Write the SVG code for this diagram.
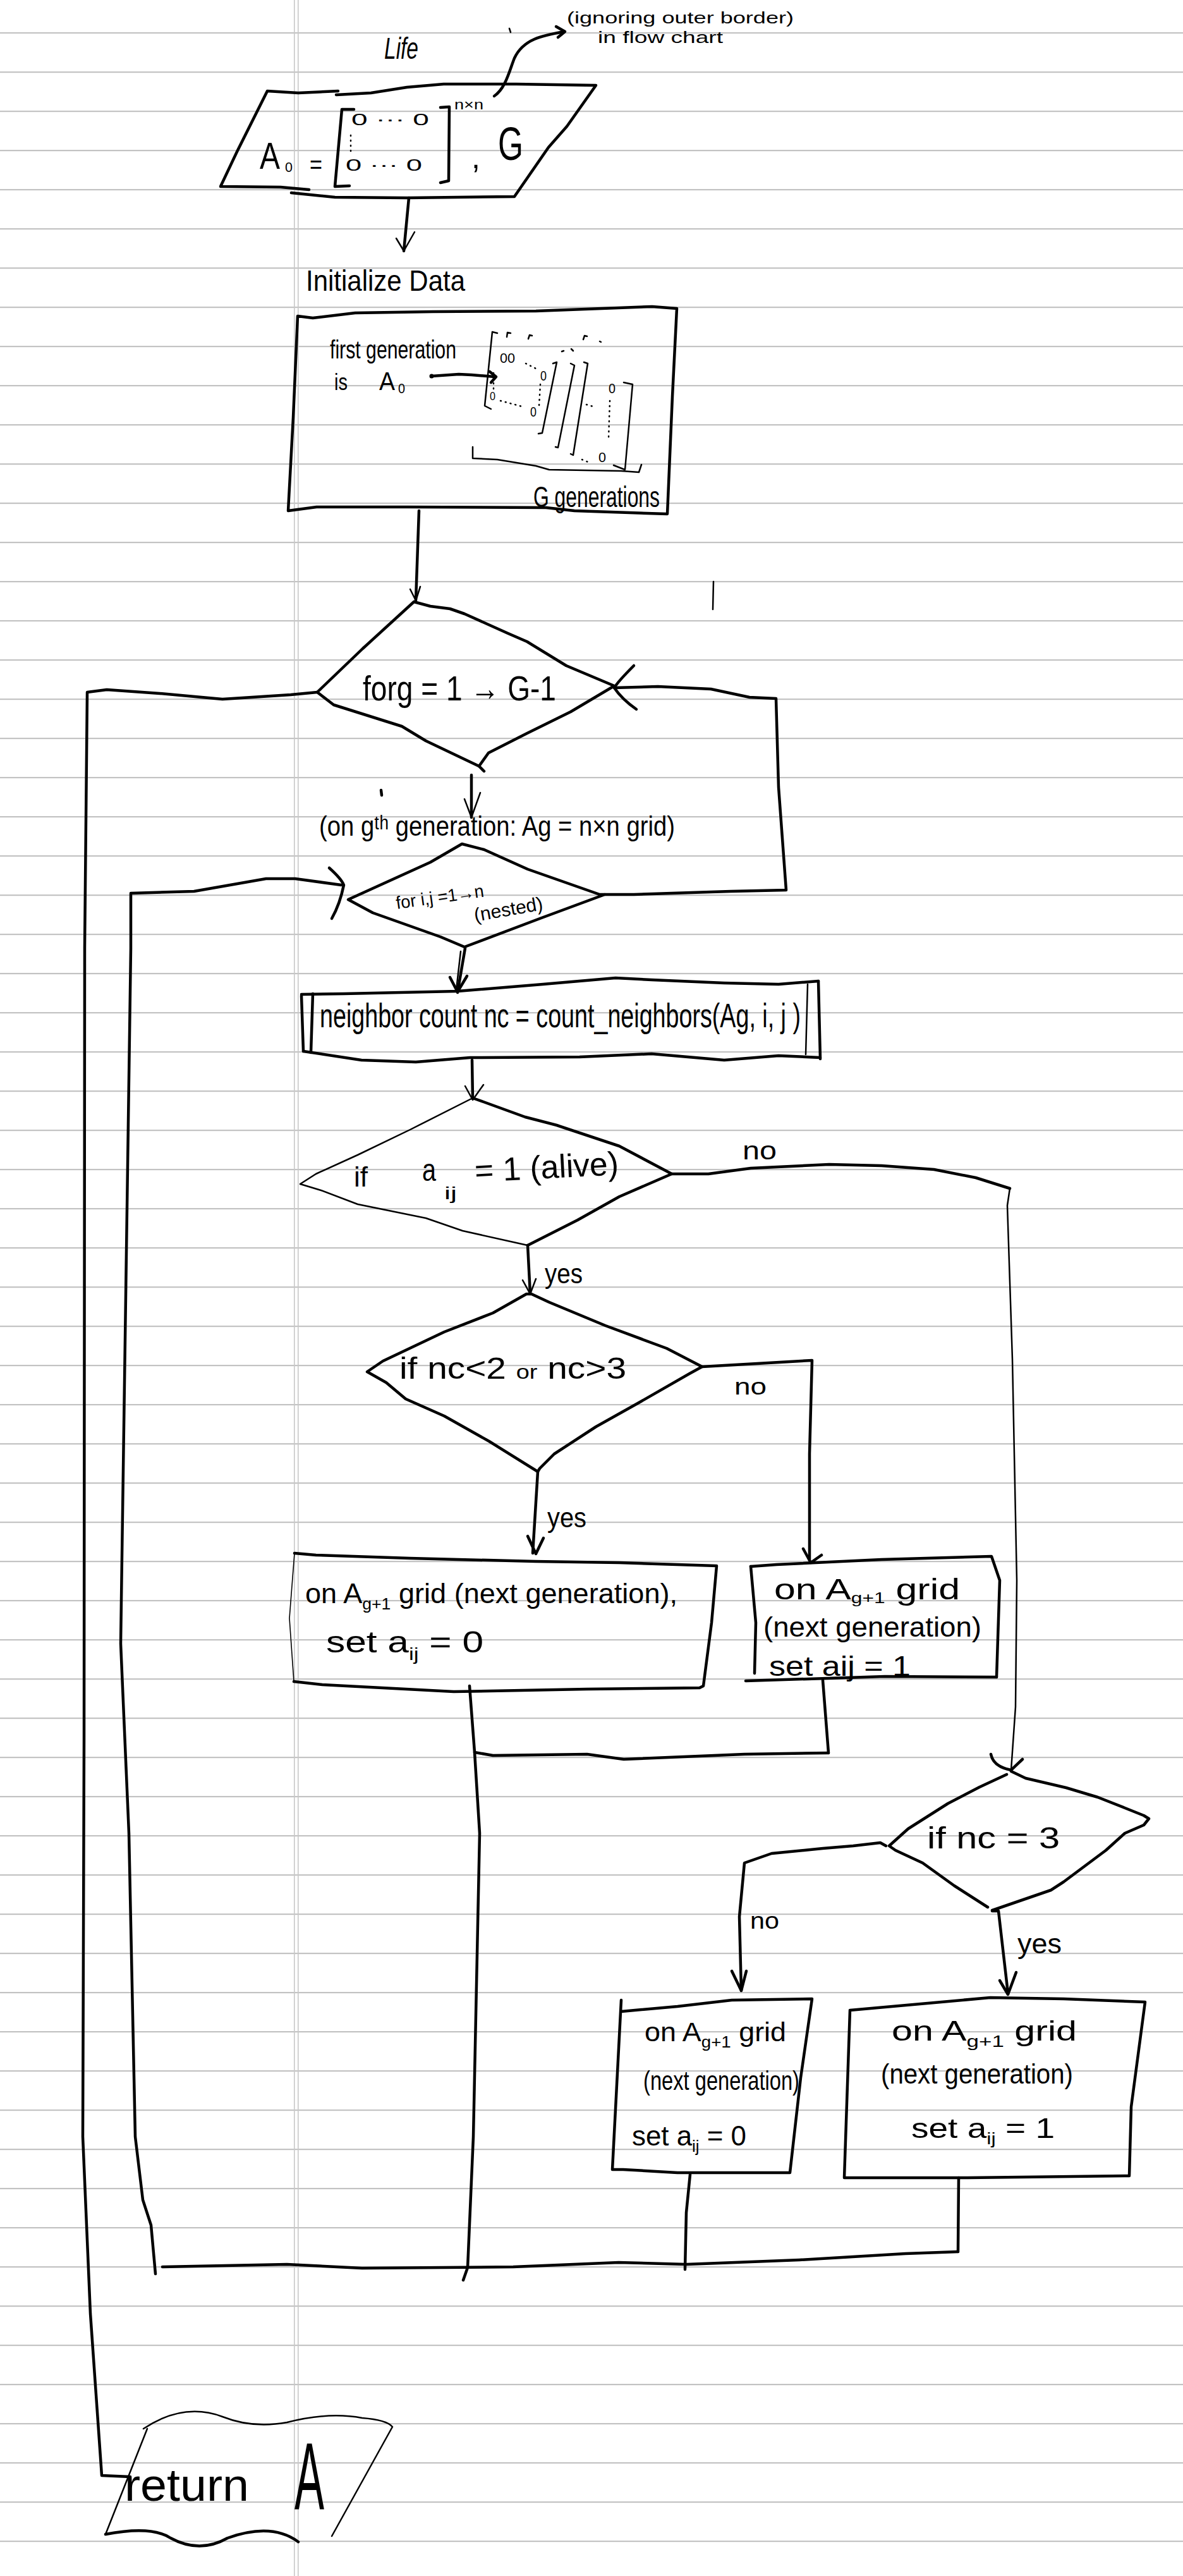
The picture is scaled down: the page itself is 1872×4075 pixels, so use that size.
<svg xmlns="http://www.w3.org/2000/svg" width="1872" height="4075" viewBox="0 0 1872 4075">
  <defs>
    <pattern id="ruled" x="0" y="51" width="1872" height="62" patternUnits="userSpaceOnUse">
      <rect x="0" y="0" width="1872" height="2.2" fill="#c3c3c3"/>
    </pattern>
    <style>
      .ink { fill: none; stroke: #000; stroke-width: 4.5; stroke-linecap: round; stroke-linejoin: round; }
      .thin { fill: none; stroke: #000; stroke-width: 2.5; stroke-linecap: round; stroke-linejoin: round; }
      .hair { fill: none; stroke: #000; stroke-width: 1.6; stroke-linecap: round; stroke-linejoin: round; }
      .dots { fill: none; stroke: #000; stroke-width: 2.5; stroke-linecap: round; stroke-dasharray: 1 7; }
      text { font-family: "Liberation Sans Narrow", "Liberation Sans", "DejaVu Sans Condensed", sans-serif; fill: #000; }
      .t40 { font-size: 40px; }
      .t26 { font-size: 26px; }
      .t22 { font-size: 22px; }
    </style>
  </defs>

  <!-- notebook paper -->
  <rect width="1872" height="4075" fill="#fff"/>
  <rect width="1872" height="4075" fill="url(#ruled)"/>
  <rect x="465" y="0" width="1.6" height="4075" fill="#c8c8c8"/>
  <rect x="471" y="0" width="1.6" height="4075" fill="#c8c8c8"/>

  <!-- title and side note -->
  <g id="title">
    <text x="608" y="93" font-size="48" font-style="italic" textLength="54" lengthAdjust="spacingAndGlyphs">Life</text>
    <text x="897" y="37" font-size="26" textLength="359" lengthAdjust="spacingAndGlyphs">(ignoring outer border)</text>
    <text x="946" y="68" font-size="26" textLength="198" lengthAdjust="spacingAndGlyphs">in flow chart</text>
    <path class="thin" d="M806,45 L808,51"/>
    <path class="ink" d="M782,152 C800,140 806,112 814,92 C828,62 858,56 893,50"/>
    <path class="ink" d="M880,42 L894,50 L883,59"/>
  </g>

  <!-- input: A0 and G -->
  <g id="input">
    <path class="ink" d="M489,300 L444,296 L349,295 L375,240 L423,144 L472,147 L535,144"/>
    <path class="ink" d="M532,150 L587,147 L644,138 L702,133 L817,133 L943,135 L897,200 L868,233 L814,311 L644,313 L530,312 L461,305"/>
    <text x="411" y="267" font-size="60" textLength="32" lengthAdjust="spacingAndGlyphs">A</text>
    <text x="451" y="272" class="t22" textLength="12" lengthAdjust="spacingAndGlyphs">0</text>
    <text x="490" y="274" class="t40" textLength="20" lengthAdjust="spacingAndGlyphs">=</text>
    <path class="ink" d="M560,173 L541,173 L530,295 L553,294"/>
    <path class="ink" d="M697,170 L711,169 L710,286 L697,289"/>
    <text x="556" y="198" class="t26" textLength="123" lengthAdjust="spacingAndGlyphs">0 ··· 0</text>
    <text x="547" y="270" class="t26" textLength="121" lengthAdjust="spacingAndGlyphs">0 ··· 0</text>
    <path class="dots" d="M555,214 L555,246"/>
    <text x="719" y="173" class="t22" textLength="46" lengthAdjust="spacingAndGlyphs">n×n</text>
    <text x="746" y="266" font-size="50">,</text>
    <text x="788" y="253" font-size="74" textLength="40" lengthAdjust="spacingAndGlyphs">G</text>
  </g>

  <!-- initialize data -->
  <g id="init">
    <text x="484" y="460" font-size="46" textLength="252" lengthAdjust="spacingAndGlyphs">Initialize Data</text>
    <path class="ink" d="M471,500 L495,503 L562,495 L685,493 L848,492 L1032,485 L1071,488 L1064,627 L1056,813 L909,808 L864,803 L644,802 L501,802 L456,808 L464,660 L471,500"/>
    <text x="522" y="567" font-size="40" textLength="200" lengthAdjust="spacingAndGlyphs">first generation</text>
    <text x="529" y="617" font-size="36" textLength="21" lengthAdjust="spacingAndGlyphs">is</text>
    <text x="600" y="617" font-size="40" textLength="25" lengthAdjust="spacingAndGlyphs">A</text>
    <text x="630" y="622" class="t22" textLength="11" lengthAdjust="spacingAndGlyphs">0</text>
    <circle cx="683" cy="595" r="3.5" fill="#000"/>
    <path class="ink" d="M683,595 L726,592 L746,593 L783,596"/>
    <path class="ink" d="M775,588 L785,596 L777,605"/>
    <!-- stack of generation matrices -->
    <path class="thin" d="M787,527 L779,525 L767,642 L777,647"/>
    <text x="791" y="574" class="t22" textLength="24" lengthAdjust="spacingAndGlyphs">00</text>
    <path class="dots" d="M832,575 L852,585"/>
    <text x="855" y="602" class="t22" textLength="10" lengthAdjust="spacingAndGlyphs">0</text>
    <path class="dots" d="M855,608 L853,642"/>
    <path class="dots" d="M781,590 L781,616"/>
    <text x="775" y="633" font-size="18" textLength="9" lengthAdjust="spacingAndGlyphs">0</text>
    <path class="dots" d="M792,634 L826,643"/>
    <text x="839" y="659" class="t22" textLength="10" lengthAdjust="spacingAndGlyphs">0</text>
    <path class="thin" d="M875,575 L881,573 L858,685 L852,686"/>
    <path class="thin" d="M903,575 L909,578 L883,708 L879,707"/>
    <path class="thin" d="M924,573 L930,575 L907,720 L903,718"/>
    <path class="thin" d="M987,605 L1001,608 L989,743 L971,736"/>
    <path class="dots" d="M928,640 L942,644"/>
    <text x="963" y="622" class="t22" textLength="11" lengthAdjust="spacingAndGlyphs">0</text>
    <path class="dots" d="M965,634 L963,694"/>
    <text x="947" y="731" class="t22" textLength="12" lengthAdjust="spacingAndGlyphs">0</text>
    <path class="dots" d="M921,727 L931,731"/>
    <path class="thin" d="M802,533 L803,526 L808,527 M836,536 L838,530 L842,531 M923,537 L925,531 L929,532 M949,540 L951,541 M889,556 L892,555 M904,552 L907,555"/>
    <path class="thin" d="M748,707 L748,725 L787,727 L848,737 L869,743 L983,745 L1011,747 L1015,735"/>
    <text x="844" y="802" font-size="46" textLength="200" lengthAdjust="spacingAndGlyphs">G generations</text>
  </g>

  <!-- outer loop over generations -->
  <g id="loop-g">
    <path class="ink" d="M655,952 L681,959 L712,963 L735,971 L804,1002 L834,1015 L896,1053 L972,1085 L903,1126 L834,1160 L773,1191 L758,1212 L674,1172 L636,1149 L528,1115 L502,1095 L574,1026 L655,952"/>
    <path class="ink" d="M758,1212 L766,1220"/>
    <text x="574" y="1108" font-size="56" textLength="306" lengthAdjust="spacingAndGlyphs">forg = 1 → G-1</text>
  </g>

  <!-- note on the current generation -->
  <g id="gen-note">
    <text x="505" y="1322" font-size="44" textLength="563" lengthAdjust="spacingAndGlyphs">(on gᵗʰ generation: Ag = n×n grid)</text>
  </g>

  <!-- inner loop over cells -->
  <g id="loop-ij">
    <path class="ink" d="M731,1335 L766,1344 L835,1375 L949,1415 L957,1415 L857,1452 L735,1498 L697,1482 L590,1444 L551,1423 L681,1364 L731,1335"/>
    <text x="628" y="1438" font-size="28" textLength="140" lengthAdjust="spacingAndGlyphs" transform="rotate(-8 628 1438)">for i,j =1→n</text>
    <text x="752" y="1458" font-size="30" textLength="110" lengthAdjust="spacingAndGlyphs" transform="rotate(-10 752 1458)">(nested)</text>
  </g>

  <!-- neighbour count subroutine -->
  <g id="count">
    <path class="ink" d="M477,1573 L544,1572 L724,1568 L859,1557 L974,1547 L1031,1550 L1146,1555 L1232,1557 L1295,1552"/>
    <path class="ink" d="M480,1663 L572,1677 L658,1680 L744,1673 L917,1672 L1031,1667 L1146,1677 L1232,1670 L1298,1673"/>
    <path class="ink" d="M477,1575 L480,1663"/>
    <path class="ink" d="M495,1572 L492,1665"/>
    <path class="thin" d="M1278,1557 L1275,1668"/>
    <path class="ink" d="M1295,1552 L1298,1675"/>
    <text x="506" y="1625" font-size="54" textLength="761" lengthAdjust="spacingAndGlyphs">neighbor count  nc = count_neighbors(Ag, i, j )</text>
  </g>

  <!-- is the cell alive -->
  <g id="alive">
    <path class="ink" d="M748,1737 L765,1743 L831,1767 L881,1780 L980,1813 L1063,1857 L980,1893 L914,1930 L835,1970"/>
    <path class="thin" d="M748,1737 L649,1787 L566,1827 L500,1857 L475,1873 L508,1883 L566,1905 L674,1927 L732,1947 L835,1970"/>
    <text x="560" y="1877" font-size="44" textLength="22" lengthAdjust="spacingAndGlyphs">if</text>
    <text x="668" y="1868" font-size="50" textLength="22" lengthAdjust="spacingAndGlyphs">a</text>
    <text x="703" y="1897" font-size="28" textLength="20" lengthAdjust="spacingAndGlyphs">ij</text>
    <text x="752" y="1870" font-size="52" textLength="228" lengthAdjust="spacingAndGlyphs" transform="rotate(-3 752 1870)">= 1 (alive)</text>
  </g>

  <!-- under- or over-population -->
  <g id="crowding">
    <path class="ink" d="M841,2047 L869,2060 L958,2097 L1055,2133 L1111,2162 L1091,2173 L1009,2220 L943,2257 L877,2300 L854,2323 L851,2328 L774,2280 L703,2240 L642,2213 L611,2187 L581,2170 L606,2153 L703,2107 L780,2077 L833,2047 L841,2047"/>
    <text x="632" y="2181" font-size="48" textLength="359" lengthAdjust="spacingAndGlyphs">if nc&lt;2 <tspan font-size="32">or</tspan> nc&gt;3</text>
  </g>

  <!-- cell dies -->
  <g id="dies">
    <path class="ink" d="M466,2457 L500,2460 L649,2465 L848,2470 L980,2472 L1134,2477 L1126,2567 L1113,2667 L1107,2670 L929,2672 L718,2676 L510,2665 L465,2660"/>
    <path class="hair" d="M465,2660 L458,2560 L466,2457"/>
    <text x="483" y="2536" font-size="44" textLength="589" lengthAdjust="spacingAndGlyphs">on  A<tspan font-size="26" dy="10">g+1</tspan><tspan dy="-10"> grid (next generation),</tspan></text>
    <text x="516" y="2614" font-size="48" textLength="249" lengthAdjust="spacingAndGlyphs">set a<tspan font-size="28" dy="12">ij</tspan><tspan dy="-12"> = 0</tspan></text>
  </g>

  <!-- cell survives -->
  <g id="survives">
    <path class="ink" d="M1188,2478 L1229,2475 L1395,2467 L1569,2462 L1582,2500 L1577,2653"/>
    <path class="ink" d="M1188,2478 L1196,2567 L1194,2647"/>
    <path class="ink" d="M1180,2659 L1400,2652 L1577,2653" stroke-width="6"/>
    <text x="1225" y="2530" font-size="46" textLength="294" lengthAdjust="spacingAndGlyphs">on A<tspan font-size="24" dy="6">g+1</tspan><tspan dy="-6"> grid</tspan></text>
    <text x="1208" y="2589" font-size="44" textLength="345" lengthAdjust="spacingAndGlyphs">(next generation)</text>
    <text x="1217" y="2651" font-size="44" textLength="224" lengthAdjust="spacingAndGlyphs">set aij = 1</text>
  </g>

  <!-- exactly three neighbours -->
  <g id="three">
    <path class="ink" d="M1600,2802 L1623,2813 L1687,2828 L1737,2843 L1780,2860 L1810,2872 L1818,2877 L1810,2887 L1780,2900 L1750,2927 L1683,2977 L1663,2990 L1570,3022"/>
    <path class="ink" d="M1593,2807 L1550,2827 L1500,2853 L1437,2893 L1407,2920 L1417,2927 L1460,2947 L1510,2983 L1563,3017"/>
    <text x="1467" y="2924" font-size="48" textLength="210" lengthAdjust="spacingAndGlyphs">if nc = 3</text>
  </g>

  <!-- stays dead -->
  <g id="stays-dead">
    <path class="ink" d="M983,3182 L1072,3174 L1158,3164 L1285,3162 L1267,3287 L1250,3437 L1072,3437 L986,3432 L969,3432 L983,3164"/>
    <text x="1020" y="3229" font-size="42" textLength="224" lengthAdjust="spacingAndGlyphs">on A<tspan font-size="26" dy="10">g+1</tspan><tspan dy="-10"> grid</tspan></text>
    <text x="1018" y="3306" font-size="42" textLength="247" lengthAdjust="spacingAndGlyphs">(next generation)</text>
    <text x="1000" y="3394" font-size="44" textLength="181" lengthAdjust="spacingAndGlyphs">set a<tspan font-size="26" dy="10">ij</tspan><tspan dy="-10"> = 0</tspan></text>
  </g>

  <!-- born -->
  <g id="born">
    <path class="ink" d="M1345,3180 L1567,3160 L1683,3162 L1812,3167 L1790,3333 L1787,3442 L1531,3445 L1336,3445 L1345,3180"/>
    <text x="1411" y="3228" font-size="44" textLength="293" lengthAdjust="spacingAndGlyphs">on  A<tspan font-size="26" dy="10">g+1</tspan><tspan dy="-10">  grid</tspan></text>
    <text x="1394" y="3296" font-size="44" textLength="304" lengthAdjust="spacingAndGlyphs">(next generation)</text>
    <text x="1442" y="3382" font-size="44" textLength="227" lengthAdjust="spacingAndGlyphs">set a<tspan font-size="26" dy="10">ij</tspan><tspan dy="-10"> = 1</tspan></text>
  </g>

  <!-- terminator -->
  <g id="return">
    <path class="thin" d="M227,3842 Q290,3800 352,3823 Q400,3842 454,3832 Q520,3815 573,3825 Q612,3828 621,3839 L525,4012"/>
    <path class="thin" d="M233,3842 L167,4009"/>
    <path class="ink" d="M167,4009 Q240,3995 270,4015 Q316,4040 360,4015 Q430,3990 472,4021"/>
    <text x="197" y="3956" font-size="72" textLength="197" lengthAdjust="spacingAndGlyphs">return</text>
    <text x="466" y="3969" font-size="150" textLength="47" lengthAdjust="spacingAndGlyphs">A</text>
  </g>

  <!-- connectors -->
  <g id="connectors">
    <!-- input to initialize -->
    <path class="ink" d="M647,313 L639,397"/>
    <path class="thin" d="M627,377 L639,397 L656,367"/>
    <!-- initialize to generation loop -->
    <path class="ink" d="M663,808 L658,950"/>
    <path class="thin" d="M649,932 L658,950 L665,928"/>
    <!-- exit of generation loop to return -->
    <path class="ink" d="M502,1095 L460,1099 L352,1106 L253,1097 L169,1091 L138,1095 L134,1500 L133,2750 L131,3380 L143,3660 L161,3916 L206,3918"/>
    <!-- back edge into the generation loop -->
    <path class="ink" d="M957,1415 L1003,1415 L1156,1410 L1244,1408 L1232,1245 L1228,1105 L1186,1103 L1125,1090 L1041,1086 L972,1088"/>
    <path class="ink" d="M1003,1053 Q978,1078 972,1088 Q984,1106 1007,1122"/>
    <path class="thin" d="M1129,920 L1128,964"/>
    <!-- generation loop body -->
    <path class="ink" d="M746,1226 L746,1293"/>
    <path class="thin" d="M735,1264 L746,1293 L760,1254"/>
    <path class="ink" d="M603,1250 L604,1258"/>
    <!-- back edge into the cell loop -->
    <path class="ink" d="M246,3597 L239,3520 L226,3480 L214,3380 L204,2900 L191,2600 L207,1500 L207,1413 L307,1410 L421,1390 L467,1390 L540,1400"/>
    <path class="ink" d="M521,1373 Q540,1390 544,1400 Q538,1430 525,1453"/>
    <!-- cell loop to neighbour count -->
    <path class="ink" d="M736,1500 L724,1570"/>
    <path class="thin" d="M729,1505 L722,1566"/>
    <path class="ink" d="M712,1546 L724,1569 L739,1544"/>
    <!-- count to alive test -->
    <path class="ink" d="M747,1677 L748,1738"/>
    <path class="thin" d="M736,1718 L748,1740 L765,1716"/>
    <!-- alive: no -->
    <path class="ink" d="M1063,1857 L1121,1857 L1188,1848 L1312,1842 L1395,1844 L1478,1850 L1544,1863 L1598,1880"/>
    <path class="thin" d="M1598,1880 L1594,1907 L1602,2150 L1609,2500 L1607,2700 L1600,2800"/>
    <path class="ink" d="M1568,2775 Q1572,2795 1600,2800 L1618,2783"/>
    <text x="1175" y="1834" font-size="40" textLength="54" lengthAdjust="spacingAndGlyphs">no</text>
    <!-- alive: yes -->
    <path class="ink" d="M835,1970 L839,2047"/>
    <path class="thin" d="M827,2025 L839,2047 L848,2023"/>
    <text x="862" y="2030" font-size="44" textLength="60" lengthAdjust="spacingAndGlyphs">yes</text>
    <!-- crowding: no -->
    <path class="ink" d="M1111,2162 L1285,2152 L1281,2300 L1281,2468"/>
    <path class="ink" d="M1271,2450 L1283,2472 L1300,2460"/>
    <text x="1162" y="2206" font-size="36" textLength="51" lengthAdjust="spacingAndGlyphs">no</text>
    <!-- crowding: yes -->
    <path class="ink" d="M851,2328 L843,2457"/>
    <path class="ink" d="M835,2430 L848,2458 L860,2433"/>
    <text x="866" y="2416" font-size="44" textLength="62" lengthAdjust="spacingAndGlyphs">yes</text>
    <!-- die / survive merge -->
    <path class="ink" d="M743,2667 L751,2772 L759,2900 L749,3380 L740,3587 L733,3607"/>
    <path class="ink" d="M1302,2658 L1311,2773"/>
    <path class="ink" d="M751,2772 L780,2777 L929,2775 L987,2783 L1178,2775 L1311,2773"/>
    <!-- three: no -->
    <path class="ink" d="M1402,2920 L1393,2915 L1350,2920 L1302,2924 L1221,2932 L1178,2947 L1170,3032 L1173,3149"/>
    <path class="ink" d="M1158,3118 L1173,3149 L1181,3118"/>
    <text x="1187" y="3051" font-size="36" textLength="46" lengthAdjust="spacingAndGlyphs">no</text>
    <!-- three: yes -->
    <path class="ink" d="M1570,3023 L1580,3023 L1595,3153"/>
    <path class="ink" d="M1582,3133 L1595,3155 L1608,3120"/>
    <text x="1610" y="3090" font-size="44" textLength="70" lengthAdjust="spacingAndGlyphs">yes</text>
    <!-- bottom merge back to the cell loop -->
    <path class="ink" d="M1092,3440 L1086,3500 L1084,3590"/>
    <path class="ink" d="M1517,3445 L1516,3562"/>
    <path class="ink" d="M257,3586 L454,3582 L573,3588 L812,3586 L979,3579 L1086,3582 L1265,3575 L1433,3565 L1516,3562"/>
  </g>
</svg>
